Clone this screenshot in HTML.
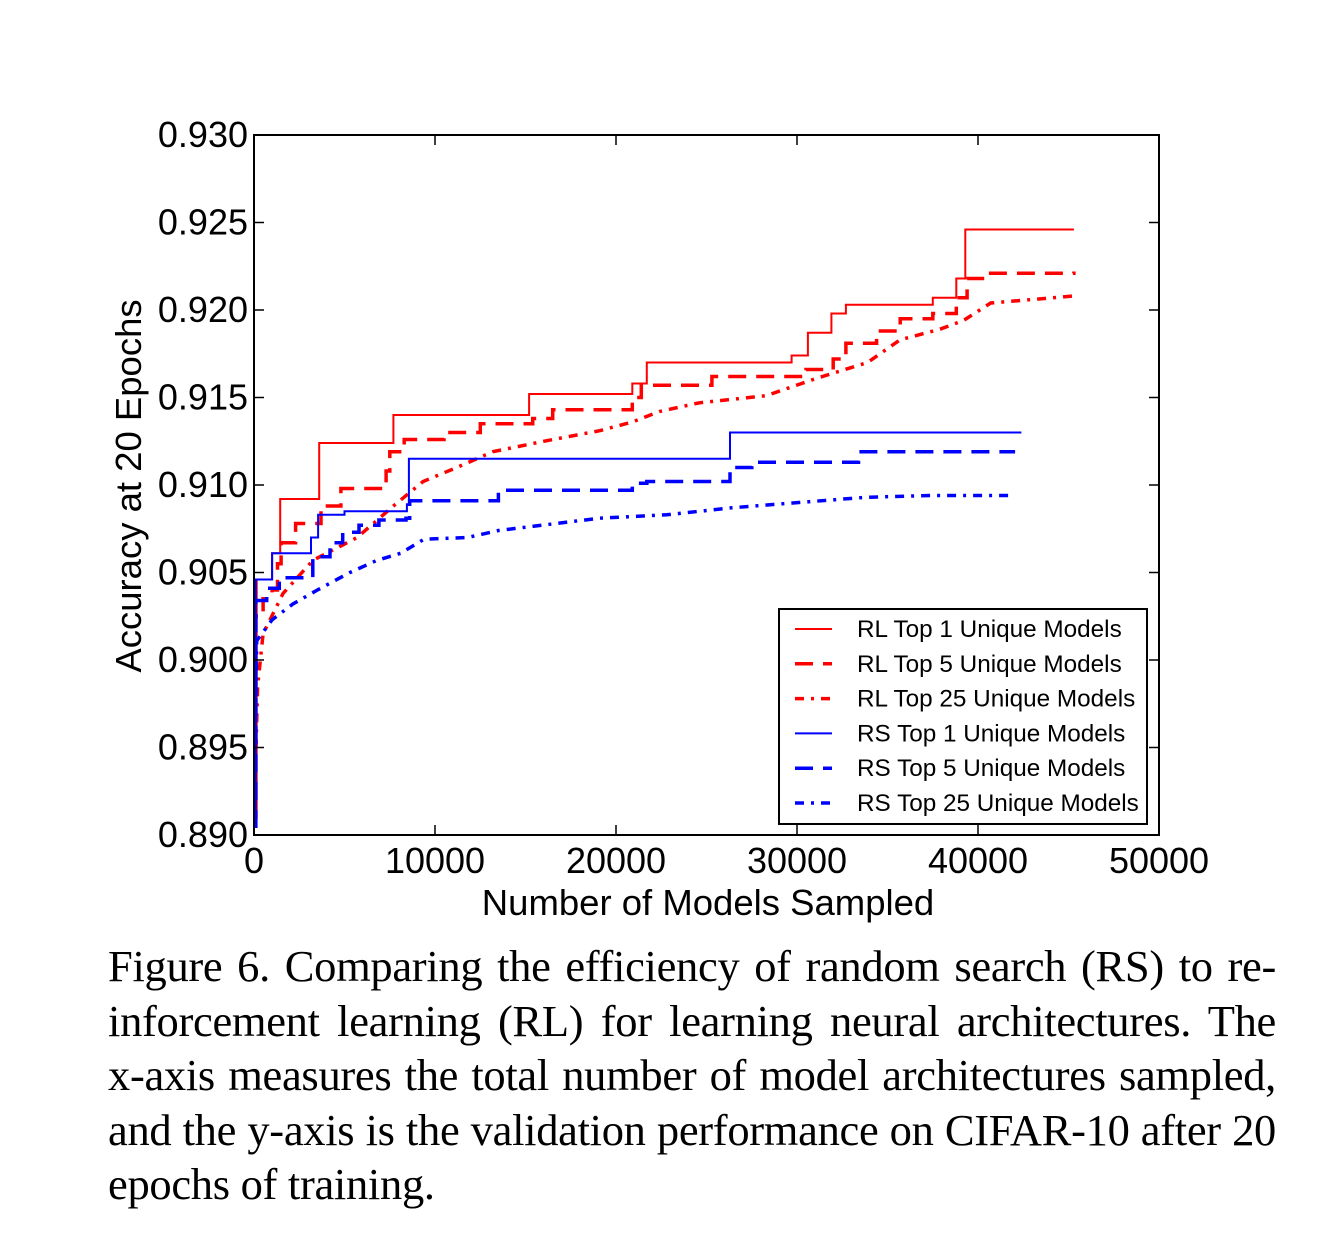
<!DOCTYPE html>
<html><head><meta charset="utf-8"><style>
body{margin:0;background:#fff;width:1342px;height:1238px;overflow:hidden}
svg text{font-family:"Liberation Sans",sans-serif}
.cap{position:absolute;left:108px;top:939px;width:1168px;font-family:"Liberation Serif",serif;font-size:44.5px;letter-spacing:-0.3px;line-height:54.5px;color:#000}
.cap div{text-align:justify;text-align-last:justify;white-space:nowrap}
.cap div.last{text-align-last:left}
</style></head><body>
<svg id="chart" width="1342" height="930" style="position:absolute;left:0;top:0"></svg>
<div class="cap">
<div>Figure 6. Comparing the efficiency of random search (RS) to re-</div>
<div>inforcement learning (RL) for learning neural architectures. The</div>
<div>x-axis measures the total number of model architectures sampled,</div>
<div>and the y-axis is the validation performance on CIFAR-10 after 20</div>
<div class="last">epochs of training.</div>
</div>
<script>
const xTicks=[0,10000,20000,30000,40000,50000];
const yTicks=[0.890,0.895,0.900,0.905,0.910,0.915,0.920,0.925,0.930];
const rl1X=[0,150,1000,1450,3600,7700,15200,20900,21700,29700,30600,31900,32700,37500,38800,39300,45300];
const rl1Y=[0.891,0.9046,0.9061,0.9092,0.9124,0.914,0.9152,0.9158,0.917,0.9174,0.9187,0.9198,0.9203,0.9207,0.9218,0.9246,0.9246];
const rl5X=[0,100,500,1000,1300,1500,2300,3700,4800,7300,7500,8300,10500,12500,15400,16500,20900,21400,25300,30500,32000,32700,34400,35700,37500,38800,39400,40500,45300];
const rl5Y=[0.8905,0.9025,0.9035,0.904,0.9055,0.9067,0.9078,0.9088,0.9098,0.9108,0.9119,0.9126,0.913,0.9135,0.9138,0.9143,0.915,0.9157,0.9162,0.9166,0.9172,0.9181,0.9188,0.9195,0.9198,0.9207,0.9218,0.9221,0.9222];
const rl25X=[0,200,500,1600,3260,5700,7700,9340,11200,13200,16000,19100,20900,22400,24600,28300,31100,33900,35700,37900,39200,40700,45300];
const rl25Y=[0.8905,0.8985,0.9015,0.9038,0.9057,0.907,0.9088,0.9102,0.911,0.9119,0.9125,0.9131,0.9136,0.9142,0.9147,0.9151,0.9161,0.917,0.9183,0.9189,0.9194,0.9204,0.9208];
const rs1X=[0,100,1000,3150,3540,5000,8450,8560,26300,42400];
const rs1Y=[0.8905,0.9046,0.9061,0.907,0.9083,0.9085,0.9089,0.9115,0.913,0.913];
const rs5X=[0,100,700,1400,3250,4200,4900,5800,6900,8400,8600,13500,20900,21700,26300,27500,33400,42050];
const rs5Y=[0.8905,0.9034,0.9041,0.9047,0.9059,0.9067,0.9073,0.9077,0.908,0.9081,0.9091,0.9097,0.9101,0.9102,0.911,0.9113,0.9119,0.9119];
const rs25X=[0,150,1000,2150,3500,5300,6800,8100,9400,11800,13500,19100,22800,26400,30100,33800,37400,41700];
const rs25Y=[0.8905,0.9011,0.9023,0.9032,0.904,0.905,0.9057,0.9061,0.9069,0.907,0.9074,0.9081,0.9083,0.9087,0.909,0.9093,0.9094,0.9094];
const series=[
 {name:'RL Top 1 Unique Models',x:rl1X,y:rl1Y,c:'#ff0000',w:2,d:'',step:true,id:'rl-top1'},
 {name:'RL Top 5 Unique Models',x:rl5X,y:rl5Y,c:'#ff0000',w:3.5,d:'18,10',step:true,id:'rl-top5'},
 {name:'RL Top 25 Unique Models',x:rl25X,y:rl25Y,c:'#ff0000',w:3.5,d:'9,7,3,7',step:false,id:'rl-top25'},
 {name:'RS Top 1 Unique Models',x:rs1X,y:rs1Y,c:'#0000ff',w:2,d:'',step:true,id:'rs-top1'},
 {name:'RS Top 5 Unique Models',x:rs5X,y:rs5Y,c:'#0000ff',w:3.5,d:'18,10',step:true,id:'rs-top5'},
 {name:'RS Top 25 Unique Models',x:rs25X,y:rs25Y,c:'#0000ff',w:3.5,d:'9,7,3,7',step:false,id:'rs-top25'}
];
const L=254,R=1159,T=135,B=835;
const X=v=>L+(v-0)/50000*(R-L);
const Y=a=>B-(a-0.89)/0.04*(B-T);
const svg=document.getElementById('chart');
const NS='http://www.w3.org/2000/svg';
function mk(t,a){const e=document.createElementNS(NS,t);for(const k in a)e.setAttribute(k,a[k]);svg.appendChild(e);return e;}
const defs=mk('defs',{});
const clip=document.createElementNS(NS,'clipPath');clip.setAttribute('id','pc');defs.appendChild(clip);
const cr=document.createElementNS(NS,'rect');cr.setAttribute('x',L);cr.setAttribute('y',T);cr.setAttribute('width',R-L);cr.setAttribute('height',B-T);clip.appendChild(cr);
series.forEach(s=>{
 let d='';
 for(let i=0;i<s.x.length;i++){
  const px=X(s.x[i]).toFixed(1),py=Y(s.y[i]).toFixed(1);
  if(i===0)d+='M'+px+' '+py;
  else if(s.step)d+=' L'+px+' '+Y(s.y[i-1]).toFixed(1)+' L'+px+' '+py;
  else d+=' L'+px+' '+py;
 }
 const p=mk('path',{d:d,fill:'none',stroke:s.c,'stroke-width':s.w,'stroke-dasharray':s.d,'clip-path':'url(#pc)'});
 
 
});
const frame=mk('rect',{x:L,y:T,width:R-L,height:B-T,fill:'none',stroke:'#000','stroke-width':2});


xTicks.forEach(v=>{
 mk('line',{x1:X(v),x2:X(v),y1:B,y2:B-10,stroke:'#000','stroke-width':1.5});
 mk('line',{x1:X(v),x2:X(v),y1:T,y2:T+10,stroke:'#000','stroke-width':1.5});
 const t=mk('text',{x:X(v),y:B+38,'font-size':36,'text-anchor':'middle'});t.textContent=v;
 
 
});
yTicks.forEach(v=>{
 mk('line',{x1:L,x2:L+10,y1:Y(v),y2:Y(v),stroke:'#000','stroke-width':1.5});
 mk('line',{x1:R,x2:R-10,y1:Y(v),y2:Y(v),stroke:'#000','stroke-width':1.5});
 const t=mk('text',{x:L-6,y:Y(v)+12,'font-size':36,'text-anchor':'end'});t.textContent=v.toFixed(3);
 
 
});
const xt=mk('text',{x:708,y:915,'font-size':36.5,'text-anchor':'middle'});xt.textContent='Number of Models Sampled';


const yt=mk('text',{x:0,y:0,'font-size':36.5,'text-anchor':'middle',transform:'translate(141,486) rotate(-90)'});yt.textContent='Accuracy at 20 Epochs';


const lg=mk('rect',{x:779,y:609,width:368,height:215,fill:'#fff',stroke:'#000','stroke-width':2});


series.forEach((s,i)=>{
 const y=629+i*34.8;
 const l=mk('line',{x1:795,x2:832,y1:y,y2:y,stroke:s.c,'stroke-width':s.w,'stroke-dasharray':s.d});
 
 
 const t=mk('text',{x:857,y:y+8,'font-size':24.3});t.textContent=s.name;
 
 
});
</script>
</body></html>
